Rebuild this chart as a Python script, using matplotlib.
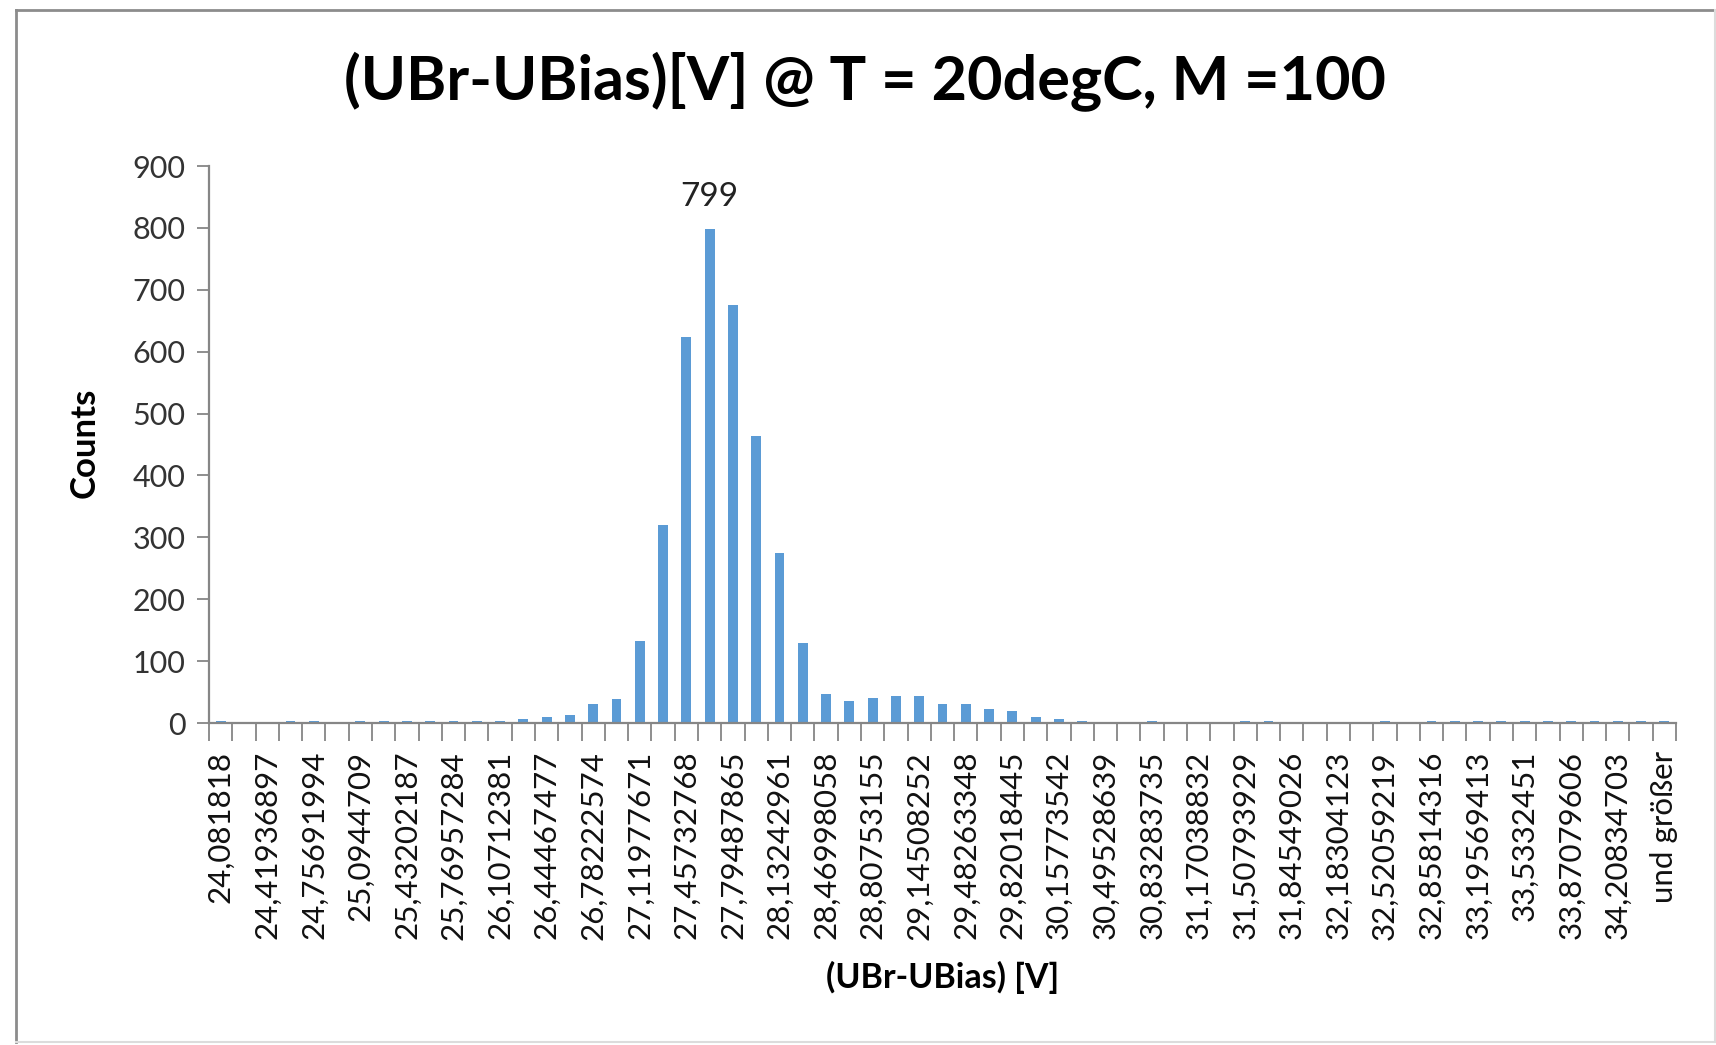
import matplotlib.pyplot as plt
from matplotlib.lines import Line2D

# Histogram counts per bin (63 bins, last one is "und größer")
counts = [
    3, 0, 0, 3, 3, 0, 3, 3, 3, 3,
    3, 3, 3, 7, 10, 13, 30, 39, 133, 320,
    623, 799, 675, 464, 274, 130, 47, 35, 41, 44,
    44, 30, 30, 22, 19, 10, 7, 3, 0, 0,
    3, 0, 0, 0, 3, 3, 0, 0, 0, 0,
    3, 0, 3, 3, 3, 3, 3, 3, 3, 3,
    3, 3, 3,
]

# Excel only shows every second bin label
shown_labels = [
    "24,081818", "24,41936897", "24,75691994", "25,0944709", "25,43202187",
    "25,76957284", "26,10712381", "26,44467477", "26,78222574", "27,11977671",
    "27,45732768", "27,79487865", "28,13242961", "28,46998058", "28,80753155",
    "29,14508252", "29,48263348", "29,82018445", "30,15773542", "30,49528639",
    "30,83283735", "31,17038832", "31,50793929", "31,84549026", "32,18304123",
    "32,52059219", "32,85814316", "33,19569413", "33,5332451", "33,87079606",
    "34,20834703", "und größer",
]

TITLE = "(UBr-UBias)[V] @ T = 20degC, M =100"
XLABEL = "(UBr-UBias) [V]"
YLABEL = "Counts"

plt.rcParams["font.family"] = ["Lato", "DejaVu Sans"]

fig = plt.figure(figsize=(17.16, 10.45), dpi=100)
ax = fig.add_axes([0.1218, 0.3081, 0.8549, 0.5330])

bar_color = "#5B9BD5"
axis_color = "#868686"

xs = list(range(len(counts)))
ax.bar(xs, counts, width=0.42, color=bar_color, zorder=2)

ax.set_xlim(-0.5, len(counts) - 0.5)
ax.set_ylim(0, 900)
ax.set_yticks(range(0, 901, 100))
ax.tick_params(axis="y", labelsize=22, colors="#333333", length=9,
               width=1.3, color=axis_color, pad=8)

# ticks between bins, labels on every other bin
ax.set_xticks([x - 0.5 for x in range(len(counts) + 1)])
ax.set_xticklabels([])
ax.tick_params(axis="x", length=13, width=1.3, color=axis_color)
ax.set_xticks(xs[::2], minor=True)
ax.set_xticklabels(shown_labels, minor=True, rotation=90, fontsize=22.5,
                   color="#111111", va="top", ha="center")
ax.tick_params(axis="x", which="minor", length=0, pad=20)

for side in ["top", "right"]:
    ax.spines[side].set_visible(False)
for side in ["left", "bottom"]:
    ax.spines[side].set_color(axis_color)
    ax.spines[side].set_linewidth(1.6)

# peak label
peak = max(counts)
ax.annotate(str(peak), (counts.index(peak), peak), xytext=(0, 12),
            textcoords="offset points", ha="center", va="bottom",
            fontsize=24, color="#222222")

fig.text(0.5 * (345 + 1385) / 1716, 1 - 82 / 1045, TITLE, fontsize=44,
         fontweight="bold", ha="center", va="center")
fig.text(943 / 1716, 1 - 977 / 1045, XLABEL, fontsize=24.5, fontweight="bold",
         ha="center", va="center")
fig.text(85 / 1716, 1 - 443 / 1045, YLABEL, fontsize=25, fontweight="bold",
         ha="center", va="center", rotation=90)

# chart area border
x0, y0, x1, y1 = 16 / 1716, 1 - 1042 / 1045, 1715 / 1716, 1 - 10 / 1045
fig.add_artist(Line2D([x0, x0], [y0, y1], color="#8c8c8c", lw=2))
fig.add_artist(Line2D([x0, x1], [y1, y1], color="#8c8c8c", lw=2))
fig.add_artist(Line2D([x1, x1], [y0, y1], color="#dcdcdc", lw=1.5))
fig.add_artist(Line2D([x0, x1], [y0, y0], color="#dcdcdc", lw=1.5))

fig.savefig("out.png", dpi=100, facecolor="white")
